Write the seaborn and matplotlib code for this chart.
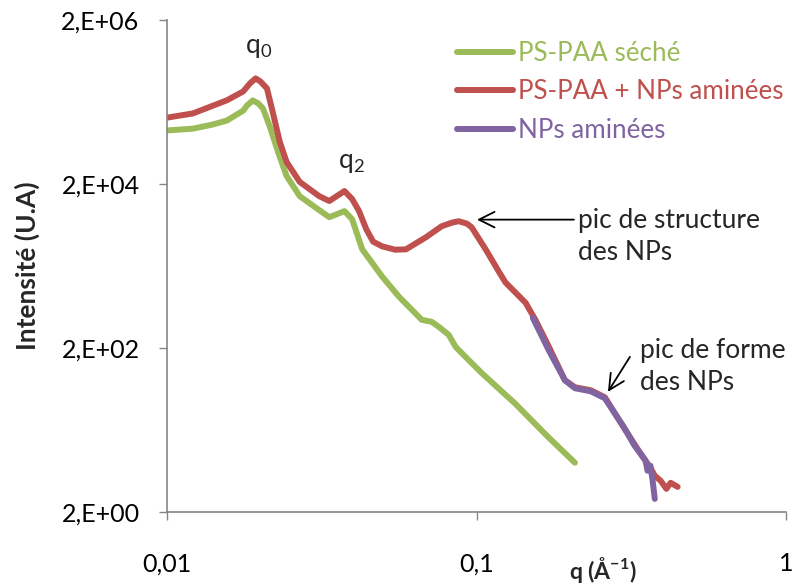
import pandas as pd
import matplotlib
matplotlib.use("Agg")
import matplotlib.pyplot as plt
import seaborn as sns
from matplotlib.ticker import FixedLocator, NullLocator

# Données (q en Å-1, intensité en U.A)
q_seche = [0.0100, 0.0121, 0.0140, 0.0156, 0.0176, 0.0181, 0.0189, 0.0197, 0.0204, 0.0214,
           0.0228, 0.0243, 0.0268, 0.0310, 0.0334, 0.0374, 0.0396, 0.0427, 0.0495, 0.0561,
           0.0665, 0.0716, 0.0755, 0.0813, 0.0856, 0.0922, 0.104, 0.133, 0.171, 0.208]
i_seche = [90000, 94600, 106000, 119000, 157000, 181000, 209000, 192000, 166000, 103000,
           49400, 25100, 14200, 9590, 7870, 9330, 7440, 3190, 1490, 845,
           441, 417, 362, 289, 206, 155, 98.6, 42.3, 16.2, 7.98]

q_np_paa = [0.0100, 0.0121, 0.0156, 0.0176, 0.0185, 0.0193, 0.0200, 0.0210, 0.0219, 0.0231,
            0.0243, 0.0268, 0.0310, 0.0334, 0.0374, 0.0396, 0.0417, 0.0440, 0.0463, 0.0495,
            0.0545, 0.0591, 0.0686, 0.0771, 0.0833, 0.0875, 0.0931, 0.0964, 0.107, 0.118,
            0.124, 0.144, 0.155, 0.171, 0.193, 0.208, 0.234, 0.260, 0.280, 0.308,
            0.339, 0.365, 0.377, 0.394, 0.411, 0.424, 0.447]
i_np_paa = [129000, 145000, 210000, 269000, 337000, 388000, 356000, 293000, 153000, 65500,
            37200, 21200, 14200, 12400, 16400, 13100, 9330, 5610, 3960, 3470,
            3160, 3190, 4480, 6100, 6760, 7030, 6570, 5930, 3190, 1710,
            1260, 713, 441, 210, 81, 66.4, 61, 50.1, 31.9, 18.1,
            10.3, 6.93, 5.53, 4.80, 3.83, 4.54, 4.05]

q_np = [0.152, 0.171, 0.193, 0.208, 0.234, 0.260, 0.280, 0.297, 0.308, 0.324,
        0.339, 0.352, 0.357, 0.365, 0.371, 0.377]
i_np = [467, 189, 81, 64.6, 59.3, 48.7, 31.9, 22.7, 18.1, 12.9,
        10.3, 8.45, 6.37, 7.33, 4.80, 2.89]

series = ["PS-PAA séché", "PS-PAA + NPs aminées", "NPs aminées"]
couleurs = ["#9BBB59", "#C0504D", "#8064A2"]

y_ticks = [2, 2e2, 2e4, 2e6]
y_labels = ["2,E+00", "2,E+02", "2,E+04", "2,E+06"]
x_ticks = [0.01, 0.1, 1]
x_labels = ["0,01", "0,1", "1"]

df = pd.concat([
    pd.DataFrame({"q": q_seche, "I": i_seche, "serie": series[0]}),
    pd.DataFrame({"q": q_np_paa, "I": i_np_paa, "serie": series[1]}),
    pd.DataFrame({"q": q_np, "I": i_np, "serie": series[2]}),
], ignore_index=True)

sns.set_theme(style="white")
plt.rcParams["font.family"] = ["Lato", "DejaVu Sans"]
plt.rcParams["mathtext.fontset"] = "custom"
plt.rcParams["mathtext.rm"] = "Lato"
plt.rcParams["mathtext.bf"] = "Lato:bold"

fig = plt.figure(figsize=(7.94, 5.86), dpi=100)
ax = fig.add_axes([0.2107, 0.1263, 0.779, 0.8396])

sns.lineplot(data=df, x="q", y="I", hue="serie", hue_order=series, palette=couleurs,
             sort=False, estimator=None, linewidth=4.3, ax=ax)
for ligne in ax.get_lines():
    ligne.set_solid_joinstyle("round")
    ligne.set_solid_capstyle("round")

ax.set_xscale("log")
ax.set_yscale("log")
ax.set_xlim(0.01, 1)
ax.set_ylim(2, 2e6)
ax.xaxis.set_major_locator(FixedLocator(x_ticks))
ax.xaxis.set_minor_locator(NullLocator())
ax.set_xticklabels(x_labels)
ax.yaxis.set_major_locator(FixedLocator(y_ticks))
ax.yaxis.set_minor_locator(NullLocator())
ax.set_yticklabels(y_labels)
ax.tick_params(axis="both", which="major", direction="out", length=6, width=1,
               color="#868686", labelsize=18, labelcolor="black", pad=14, bottom=True, left=True)
ax.tick_params(axis="x", pad=23)

for s in ["top", "right"]:
    ax.spines[s].set_visible(False)
for s in ["left", "bottom"]:
    ax.spines[s].set_color("#868686")
    ax.spines[s].set_linewidth(1.2)

ax.set_xlabel(r"q (Å$^{\mathbf{-1}}$)", fontsize=16.5, fontweight="bold")
ax.xaxis.set_label_coords(0.704, -0.088)
ax.set_ylabel("Intensité (U.A)", fontsize=19, fontweight="bold")
ax.yaxis.set_label_coords(-0.206, 0.5)

leg = ax.legend(loc="upper left", bbox_to_anchor=(0.468, 0.958), frameon=False,
                fontsize=18.7, handlelength=2.15, handletextpad=0.2, labelspacing=0.52,
                borderpad=0, borderaxespad=0, labelcolor="linecolor")
for h in leg.get_lines():
    h.set_linewidth(4.3)
    h.set_solid_capstyle("round")

ax.text(0.0197, 925000, r"q$_0$", fontsize=19, ha="center", va="center")
ax.text(0.0393, 36500, r"q$_2$", fontsize=19, ha="center", va="center")

fleche = dict(arrowstyle="->", color="black", lw=1.3, mutation_scale=28, shrinkA=0, shrinkB=0)
ax.annotate("", xy=(0.1003, 7350), xytext=(0.2065, 7350), arrowprops=fleche)
ax.text(0.2128, 4624, "pic de structure\ndes NPs", fontsize=19, ha="left", va="center",
        linespacing=1.35)
ax.annotate("", xy=(0.266, 58.4), xytext=(0.3133, 156), arrowprops=fleche)
ax.text(0.3376, 119.6, "pic de forme\ndes NPs", fontsize=19, ha="left", va="center",
        linespacing=1.35)

fig.savefig("out.png", dpi=100)
